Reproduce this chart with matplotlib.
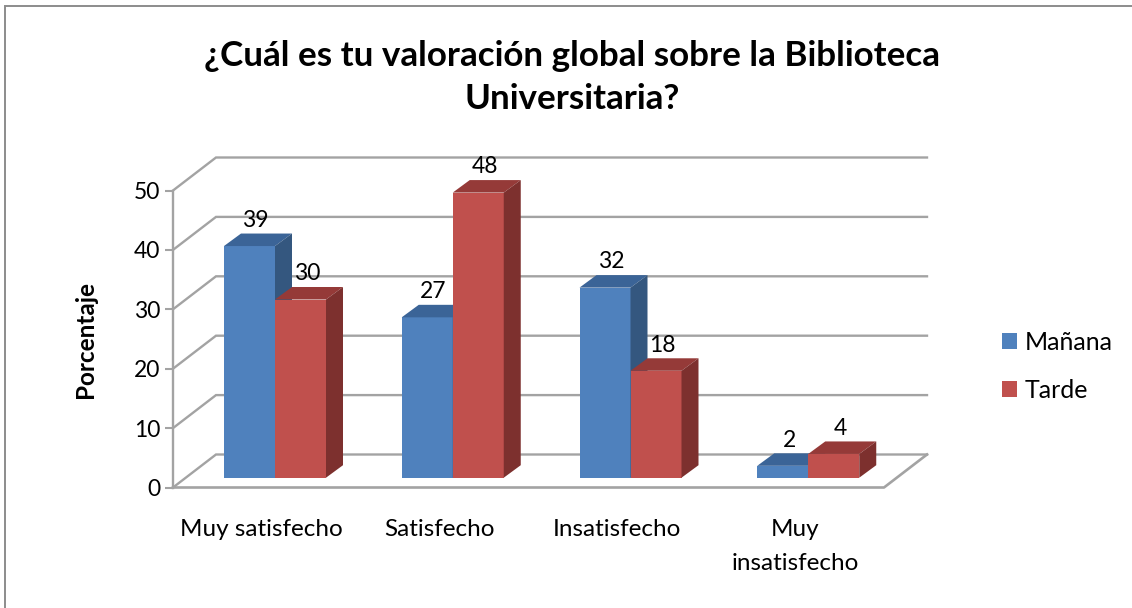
import matplotlib
matplotlib.use("Agg")
import matplotlib.pyplot as plt
from matplotlib.patches import Polygon, Rectangle

categories = ["Muy satisfecho", "Satisfecho", "Insatisfecho", "Muy\ninsatisfecho"]
manana = [39, 27, 32, 2]
tarde = [30, 48, 18, 4]
y_ticks = [0, 10, 20, 30, 40, 50]

W, H = 1132, 608
BLUE, BLUE_TOP, BLUE_SIDE = "#4F81BD", "#3B6497", "#34577F"
RED, RED_TOP, RED_SIDE = "#C0504D", "#953A38", "#7D302E"
GRID = "#A3A3A3"

plt.rcParams["font.family"] = ["Lato", "DejaVu Sans"]
fig = plt.figure(figsize=(W / 100, H / 100), dpi=100)
# chart border, cut off by the image on the right and at the bottom
fig.patches.append(Rectangle((5 / W, 1 - 700 / H), 1200 / W, 694 / H, transform=fig.transFigure,
                             fill=False, ec="#8C8C8C", lw=1.4))

# front plane of the fake 3d box, in pixels
left, right, y0, y50 = 173, 884, 487.5, 190.5
ax = fig.add_axes([left / W, 1 - y0 / H, (right - left) / W, (y0 - y50) / H])
ax.set_xlim(0, 4)
ax.set_ylim(0, 50)
ax.patch.set_visible(False)

px_x = 4 / (right - left)
px_y = 50 / (y0 - y50)
wall_dx, wall_dy = 43 * px_x, 33 * px_y
bar_dx, bar_dy = 17 * px_x, 12.5 * px_y
bar_base = 9.8 * px_y
bar_w = 51 * px_x
bar_start = 51 * px_x

# walls and floor
for v in y_ticks:
    ax.plot([0, wall_dx, 4 + wall_dx], [v, v + wall_dy, v + wall_dy], color=GRID, lw=1.7,
            clip_on=False, zorder=1, solid_joinstyle="miter")
ax.plot([0, 4, 4 + wall_dx], [0, 0, wall_dy], color=GRID, lw=1.9, clip_on=False, zorder=1)


def draw_bar(x, val, col, top_col, side_col):
    ax.bar(x, val, bar_w, bottom=bar_base, align="edge", color=col, zorder=3, clip_on=False)
    t = bar_base + val
    ax.add_patch(Polygon([(x, t), (x + bar_dx, t + bar_dy), (x + bar_w + bar_dx, t + bar_dy), (x + bar_w, t)],
                         fc=top_col, ec="none", zorder=3, clip_on=False))
    ax.add_patch(Polygon([(x + bar_w, bar_base), (x + bar_w + bar_dx, bar_base + bar_dy),
                          (x + bar_w + bar_dx, t + bar_dy), (x + bar_w, t)],
                         fc=side_col, ec="none", zorder=3, clip_on=False))
    ax.annotate(str(val), (x + bar_w / 2, t), xytext=(4.5, 18.5), textcoords="offset points",
                ha="center", va="center", fontsize=16.5, color="black", zorder=5, annotation_clip=False)


for i in range(len(categories)):
    draw_bar(i + bar_start, manana[i], BLUE, BLUE_TOP, BLUE_SIDE)
    draw_bar(i + bar_start + bar_w, tarde[i], RED, RED_TOP, RED_SIDE)

for s in ["top", "right", "bottom"]:
    ax.spines[s].set_visible(False)
ax.spines["left"].set_color(GRID)
ax.spines["left"].set_linewidth(1.7)
ax.set_yticks(y_ticks)
ax.tick_params(axis="y", length=6, width=1.5, color=GRID, labelsize=16.5, pad=3)
ax.set_xticks([i + 0.5 for i in range(len(categories))])
ax.set_xticklabels(categories, fontsize=17.5, linespacing=1.75, va="top")
ax.tick_params(axis="x", length=0, pad=23)
ax.set_ylabel("Porcentaje", fontsize=17.5, fontweight="bold", labelpad=27)

fig.text(572 / W, 1 - 77.5 / H, "¿Cuál es tu valoración global sobre la Biblioteca\nUniversitaria?",
         ha="center", va="center", fontsize=25.2, fontweight="bold", linespacing=1.45)

handles = [Rectangle((0, 0), 1, 1, fc=BLUE), Rectangle((0, 0), 1, 1, fc=RED)]
fig.legend(handles, ["Mañana", "Tarde"], loc="center left", bbox_to_anchor=(1002 / W, 1 - 366.5 / H),
           frameon=False, fontsize=18, handlelength=0.6, handleheight=0.6, handletextpad=0.3,
           labelspacing=1.0, borderpad=0, borderaxespad=0)

fig.savefig("out.png", dpi=100)
